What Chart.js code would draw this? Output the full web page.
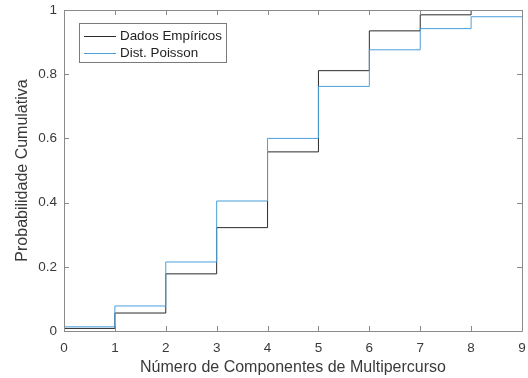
<!DOCTYPE html>
<html>
<head>
<meta charset="utf-8">
<script src="https://cdn.jsdelivr.net/npm/chart.js@4.4.0/dist/chart.umd.min.js"></script>
<style>
	html, body { margin: 0; padding: 0; background: #fff; }
	#wrap { width: 528px; height: 378px; }
</style>
</head>
<body>
<div id="wrap"><canvas id="cdfChart"></canvas></div>
<script>
// Número de componentes (eixo x)
const components = [0, 1, 2, 3, 4, 5, 6, 7, 8, 9]
// Probabilidade cumulativa
const empirical = [0.008, 0.056, 0.178, 0.322, 0.558, 0.811, 0.935, 0.985, 1.0, 1.0]
const poisson = [0.013, 0.078, 0.215, 0.405, 0.600, 0.762, 0.876, 0.942, 0.979, 0.979]
const xTicks = [0, 1, 2, 3, 4, 5, 6, 7, 8, 9]
const yTicks = [0, 0.2, 0.4, 0.6, 0.8, 1]

const FONT = 'Liberation Sans, Arial, Helvetica, sans-serif'
const AXIS_COLOR = '#8a8a8a'
const TEXT_COLOR = '#3a3a3a'

function toPoints(values) {
	return components.map((x, i) => ({ x: x, y: values[i] }))
}

// sem folga automática para os rótulos das pontas
function noOverhang(scale) {
	scale.paddingLeft = 0
	scale.paddingRight = 0
	scale.paddingTop = 0
	scale.paddingBottom = 0
}

// box + ticks para dentro (estilo MATLAB) e legenda dentro da área
const matlabAxes = {
	id: 'matlabAxes',
	afterDraw(chart) {
		const ctx = chart.ctx
		const area = chart.chartArea
		const xs = chart.scales.x
		const ys = chart.scales.y
		const tick = 5

		ctx.save()
		ctx.strokeStyle = AXIS_COLOR
		ctx.lineWidth = 1
		ctx.beginPath()
		ctx.rect(Math.round(area.left) + 0.5, Math.round(area.top) + 0.5,
			Math.round(area.right - area.left), Math.round(area.bottom - area.top))
		xTicks.forEach(v => {
			const px = Math.round(xs.getPixelForValue(v)) + 0.5
			ctx.moveTo(px, area.bottom)
			ctx.lineTo(px, area.bottom - tick)
			ctx.moveTo(px, area.top)
			ctx.lineTo(px, area.top + tick)
		})
		yTicks.forEach(v => {
			const py = Math.round(ys.getPixelForValue(v)) + 0.5
			ctx.moveTo(area.left, py)
			ctx.lineTo(area.left + tick, py)
			ctx.moveTo(area.right, py)
			ctx.lineTo(area.right - tick, py)
		})
		ctx.stroke()

		// legenda
		const lx = 79, ly = 23, lw = 147, lh = 39
		ctx.fillStyle = '#fff'
		ctx.fillRect(lx, ly, lw, lh)
		ctx.strokeStyle = '#7a7a7a'
		ctx.strokeRect(lx + 0.5, ly + 0.5, lw, lh)
		ctx.font = '13.4px ' + FONT
		ctx.textBaseline = 'middle'
		chart.data.datasets.forEach((ds, i) => {
			const rowY = ly + 13 + i * 17
			ctx.strokeStyle = ds.borderColor
			ctx.lineWidth = 1
			ctx.beginPath()
			ctx.moveTo(84, rowY + 0.5)
			ctx.lineTo(116, rowY + 0.5)
			ctx.stroke()
			ctx.fillStyle = '#222'
			ctx.fillText(ds.label, 120, rowY)
		})
		ctx.restore()
	}
}

new Chart(document.getElementById('cdfChart'), {
	type: 'line',
	data: {
		datasets: [
			{
				label: 'Dados Empíricos',
				data: toPoints(empirical),
				borderColor: '#2a2a2a',
				borderWidth: 1,
				stepped: 'before',
				pointRadius: 0,
				fill: false,
				order: 1,
			},
			{
				label: 'Dist. Poisson',
				data: toPoints(poisson),
				borderColor: '#4a9fdc',
				borderWidth: 1,
				stepped: 'before',
				pointRadius: 0,
				fill: false,
				order: 0,
			},
		],
	},
	plugins: [matlabAxes],
	options: {
		responsive: true,
		maintainAspectRatio: false,
		animation: false,
		layout: { padding: { top: 10, right: 6, left: 0, bottom: 0 } },
		plugins: {
			legend: { display: false },
			tooltip: { enabled: false },
		},
		scales: {
			x: {
				type: 'linear',
				min: 0,
				max: 9,
				grid: { display: false, drawTicks: false },
				border: { display: false },
				afterFit: scale => { scale.height = 47; noOverhang(scale) },
				afterBuildTicks: scale => { scale.ticks = xTicks.map(v => ({ value: v })) },
				ticks: {
					color: TEXT_COLOR,
					font: { family: FONT, size: 13.5 },
					padding: 9,
					maxRotation: 0,
					callback: v => String(v),
				},
				title: {
					display: true,
					text: 'Número de Componentes de Multipercurso',
					color: TEXT_COLOR,
					font: { family: FONT, size: 16 },
					padding: { top: 0, bottom: 1 },
				},
			},
			y: {
				min: 0,
				max: 1,
				grid: { display: false, drawTicks: false },
				border: { display: false },
				afterFit: scale => { scale.width = 64; noOverhang(scale) },
				afterBuildTicks: scale => { scale.ticks = yTicks.map(v => ({ value: v })) },
				ticks: {
					color: TEXT_COLOR,
					font: { family: FONT, size: 13.5 },
					padding: 7,
					callback: v => String(Math.round(v * 10) / 10),
				},
				title: {
					display: true,
					text: 'Probabilidade Cumulativa',
					color: TEXT_COLOR,
					font: { family: FONT, size: 16 },
					padding: { top: 13, bottom: 0 },
				},
			},
		},
	},
})
</script>
</body>
</html>
